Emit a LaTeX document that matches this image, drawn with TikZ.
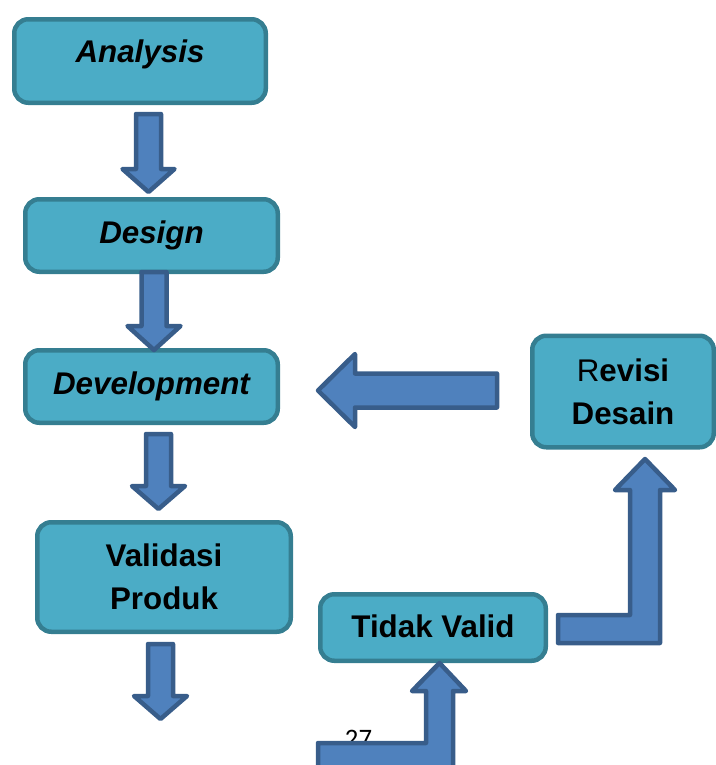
\documentclass[tikz,border=0pt]{standalone}
\usepackage{fontspec}
\setmainfont{Liberation Sans}
\newfontfamily\pagenumfont{Carlito}
\definecolor{boxfill}{HTML}{4BACC6}
\definecolor{boxline}{HTML}{357E91}
\definecolor{arrfill}{HTML}{4F81BD}
\definecolor{arrline}{HTML}{385D8A}
\newdimen\px \px=0.75pt
% down-pointing block arrow: centre x, top, head base, tip, shaft half width, head half width
\newcommand\downblock[6]{%
  \draw[blockarrow] (#1-#5,#2) -- (#1+#5,#2) -- (#1+#5,#3) -- (#1+#6,#3)
    -- (#1,#4) -- (#1-#6,#3) -- (#1-#5,#3) -- cycle;}
\tikzset{
  stage/.style={draw=boxline, fill=boxfill, line width=4.5\px,
    rounded corners=14\px, inner sep=0pt, align=center,
    font=\fontsize{23.5}{32.25}\selectfont\bfseries},
  oneline/.style={text height=22.5\px, text depth=#1},
  blockarrow/.style={draw=arrline, fill=arrfill, line width=4.5\px, line join=round},
}
\begin{document}
\begin{tikzpicture}[x=0.75pt, y=-0.75pt]
\useasboundingbox (0,0) rectangle (716,765);
\clip (0,0) rectangle (716,765);

% process boxes
\node[stage, oneline=19\px, minimum width=251.5\px, minimum height=83.5\px]
  (analysis) at (140,61) {\itshape Analysis};
\node[stage, oneline=6\px, minimum width=252.5\px, minimum height=72.5\px]
  (design) at (151.5,235.5) {\itshape Design};
\node[stage, oneline=7\px, minimum width=252.5\px, minimum height=72.5\px]
  (development) at (151.5,386.5) {\itshape Development};
\node[stage, minimum width=253.5\px, minimum height=109.5\px]
  (validasi) at (164,577) {Validasi\\Produk};
\node[stage, minimum width=181.5\px, minimum height=111.5\px]
  (revisi) at (623,391.5) {\textmd{R}evisi\\Desain};
\node[stage, oneline=2\px, minimum width=225.5\px, minimum height=66.5\px]
  (tidak) at (433,627.5) {Tidak Valid};

% page number, partly covered by the arrow below
\node[anchor=base, inner sep=0pt, font=\pagenumfont\fontsize{20}{24}\selectfont]
  (pagenum) at (358.5,747) {27};

% vertical flow arrows
\downblock{148.5}{114}{169}{192}{12.5}{26}
\downblock{154}{272}{326}{350}{12.5}{26.5}
\downblock{158.5}{434}{486}{509}{12.5}{26.5}
\downblock{160.5}{644}{696}{719}{12.5}{26.5}

% arrow from Revisi Desain back to Development
\draw[blockarrow] (497,373.5) -- (497,407.5) -- (355,407.5) -- (355,427)
  -- (318,390.5) -- (355,354) -- (355,373.5) -- cycle;

% bent arrow from Tidak Valid up to Revisi Desain
\draw[blockarrow] (558,615) -- (630,615) -- (630,490) -- (615,490)
  -- (645,459) -- (675,490) -- (660,490) -- (660,643) -- (558,643) -- cycle;

% bent arrow leading up into Tidak Valid
\draw[blockarrow] (318,743) -- (426,743) -- (426,691) -- (412,691)
  -- (439.5,663) -- (466,691) -- (453,691) -- (453,780) -- (318,780) -- cycle;
\end{tikzpicture}
\end{document}
